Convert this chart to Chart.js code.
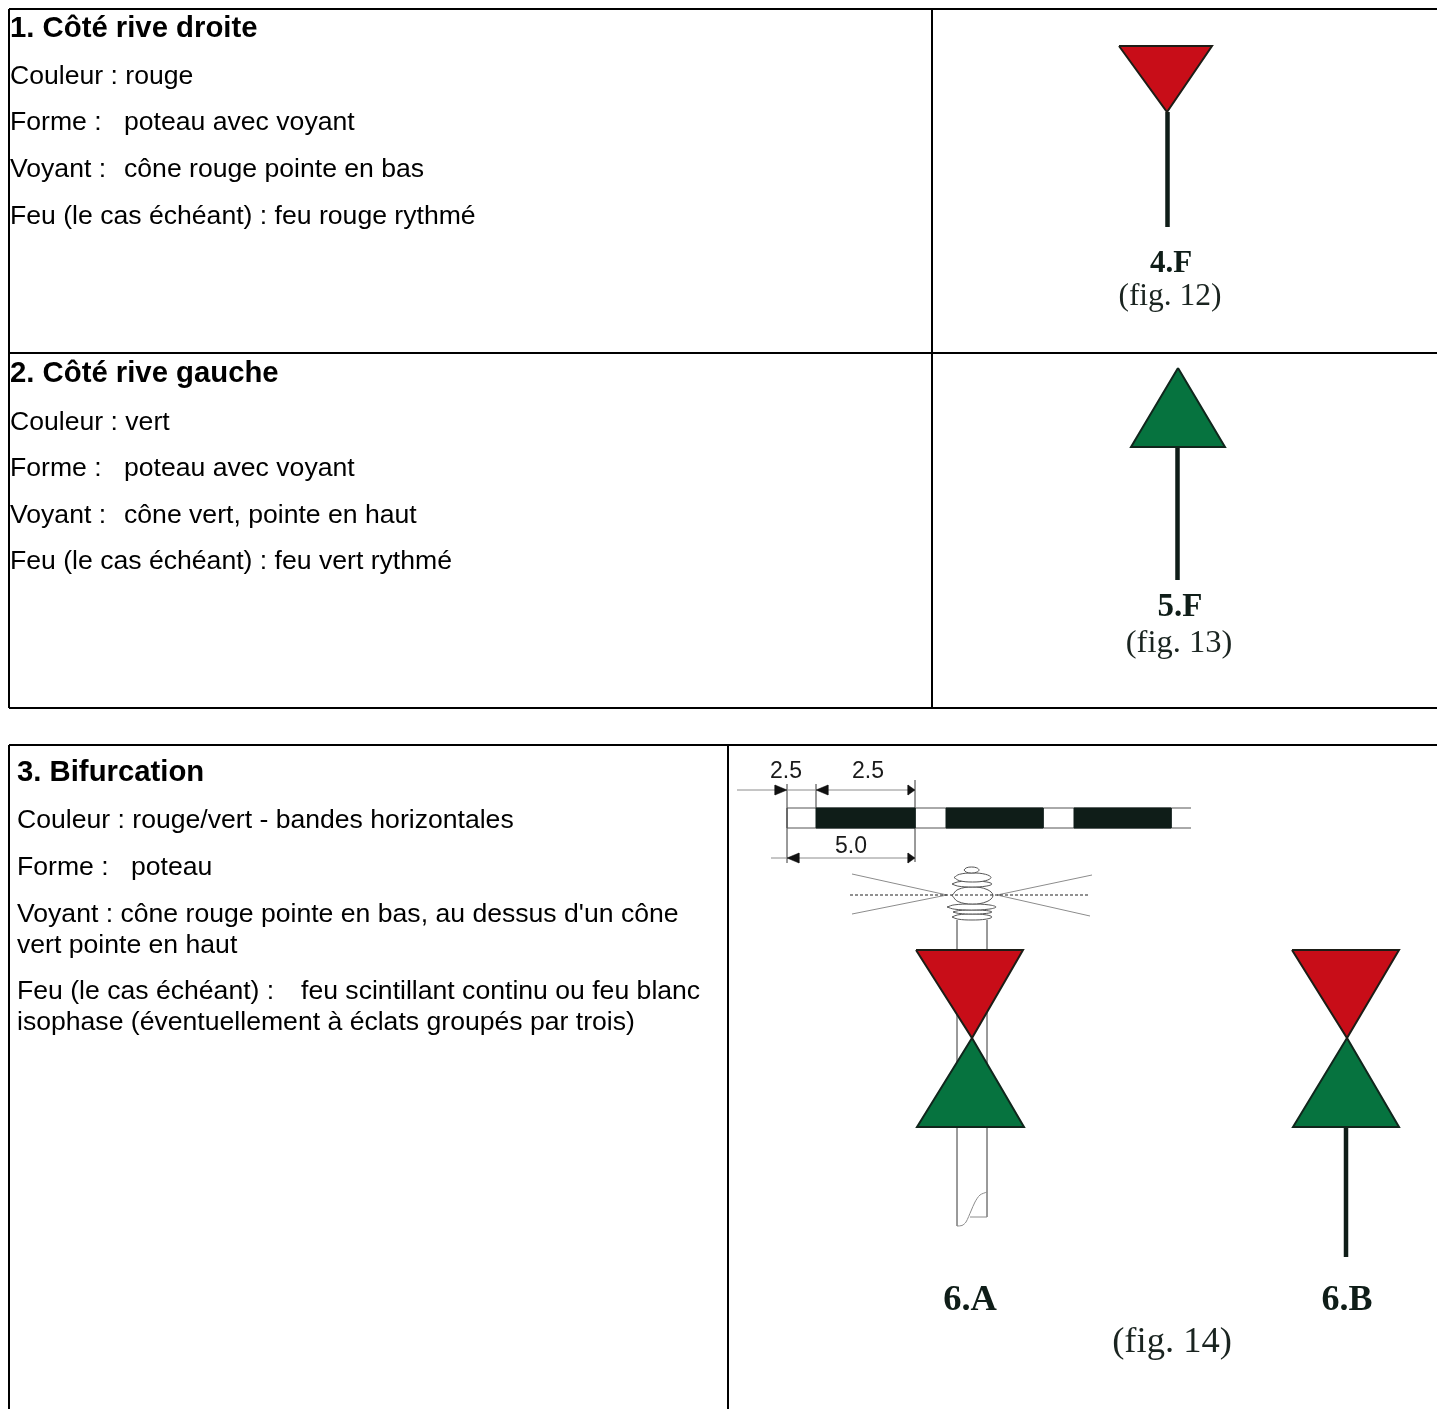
<!DOCTYPE html>
<html>
<head>
<meta charset="utf-8">
<title>Balisage</title>
<script src="https://cdn.jsdelivr.net/npm/chart.js@4"></script>
<style>
	html, body { margin: 0; padding: 0; background: #fff; }
	canvas { display: block; }
</style>
</head>
<body>
<canvas id="planche" width="1437" height="1409"></canvas>
<script>
// axis range, one unit is one unit of the original sheet
var sheetX = [0, 1437];
var sheetY = [0, 1409];

// table rules
var tableRules = [
	[[9, 9], [1437, 9]], [[9, 9], [9, 708]], [[9, 708], [1437, 708]],
	[[9, 353], [1437, 353]], [[932, 9], [932, 708]],
	[[9, 745], [1437, 745]], [[9, 745], [9, 1409]], [[728, 745], [728, 1409]]
];

// cones
var redCones = [
	[[1119, 46], [1212, 46], [1167, 112]],
	[[916, 950], [1023, 950], [972, 1038]],
	[[1292, 950], [1399, 950], [1347, 1038]]
];
var greenCones = [
	[[1178, 368], [1225, 447], [1131, 447]],
	[[972, 1038], [1024, 1127], [917, 1127]],
	[[1347, 1038], [1399, 1127], [1293, 1127]]
];
var posts = [
	[[1167.5, 112], [1167.5, 227]],
	[[1177.5, 447], [1177.5, 580]],
	[[1346, 1127], [1346, 1257]]
];

// 6.A drawn post and light
var postOutline = [
	[[957, 920], [957, 1226]],
	[[987, 920], [987, 1217], [970, 1217]]
];
var postCut = [[957, 1226], [962, 1225.5], [966, 1222], [971, 1211], [975, 1202], [980, 1195], [987, 1192]];
var lanternOvals = [
	[964, 867, 979, 873], [954, 873, 991, 882], [952, 881, 992, 887], [952, 887, 993, 904],
	[947, 904, 996, 910], [953, 910, 992, 914], [952, 914, 992, 920]
];
var lightRays = [
	[[852, 874], [947, 895]], [[852, 914], [947, 895]],
	[[1092, 875], [997, 895]], [[1090, 916], [997, 895]]
];
var lightAxis = [[850, 895], [1088, 895]];

// banded strip and its dimensions
var stripEdges = [[[787, 808], [1191, 808]], [[787, 828], [1191, 828]], [[787, 808], [787, 828]]];
var stripBands = [[816, 915], [946, 1043], [1074, 1171]];
var dimLines = [
	[[737, 790], [915, 790]], [[771, 858], [915, 858]],
	[[787, 784], [787, 808]], [[787, 828], [787, 863]],
	[[816, 784], [816, 808]], [[915, 780], [915, 808]], [[915, 828], [915, 862]]
];
var dimArrows = [
	[[787, 790], [775, 785], [775, 795]],
	[[816, 790], [828, 785], [828, 795]],
	[[915, 790], [908, 785], [908, 795]],
	[[787, 858], [799, 853], [799, 863]],
	[[915, 858], [908, 853], [908, 863]]
];

// text
var headings = ['1. Côté rive droite', '2. Côté rive gauche', '3. Bifurcation'];
var headingX = [10, 10, 17];
var headingY = [37, 382, 781];

var bodyLines = [
	'Couleur : rouge', 'Forme :', 'poteau avec voyant', 'Voyant :', 'cône rouge pointe en bas',
	'Feu (le cas échéant) : feu rouge rythmé',
	'Couleur : vert', 'Forme :', 'poteau avec voyant', 'Voyant :', 'cône vert, pointe en haut',
	'Feu (le cas échéant) : feu vert rythmé',
	'Couleur : rouge/vert - bandes horizontales', 'Forme :', 'poteau',
	'Voyant : cône rouge pointe en bas, au dessus d\'un cône', 'vert pointe en haut',
	'Feu (le cas échéant) :', 'feu scintillant continu ou feu blanc',
	'isophase (éventuellement à éclats groupés par trois)'
];
var bodyX = [10, 10, 124, 10, 124, 10, 10, 10, 124, 10, 124, 10, 17, 17, 131, 17, 17, 17, 301, 17];
var bodyY = [84, 130, 130, 177, 177, 224, 430, 476, 476, 523, 523, 569, 828, 875, 875, 922, 953, 999, 999, 1030];

var dimTexts = ['2.5', '2.5', '5.0'];
var dimTextX = [786, 868, 851];
var dimTextY = [778, 778, 853];

var figBold = ['4.F', '5.F', '6.A', '6.B'];
var figBoldX = [1171, 1180, 970, 1347];
var figBoldY = [272, 616, 1310, 1310];
var figBoldSize = [31, 33, 36.5, 36];

var figPlain = ['(fig. 12)', '(fig. 13)', '(fig. 14)'];
var figPlainX = [1170, 1179, 1172];
var figPlainY = [305, 652, 1352];
var figPlainSize = [31.5, 32.5, 36.5];

var INK = '#0f1d18';
var GREY = '#8c8c8c';
var RED = '#c80d18';
var GREEN = '#06733f';

function toXY(list){
	return list.map(function(p){ return {x: p[0], y: p[1]}; });
}

// open stroke
function stroke(list, color, width, extra){
	var ds = {
		data: toXY(list),
		showLine: true,
		borderColor: color,
		borderWidth: width,
		pointRadius: 0,
		fill: false,
		tension: 0,
		clip: false
	};
	return Object.assign(ds, extra || {});
}

// closed filled polygon
function shape(list, fillColor, edgeColor, width){
	var closed = list.concat([list[0]]);
	return stroke(closed, edgeColor, width, {fill: 'shape', backgroundColor: fillColor, borderJoinStyle: 'miter'});
}

// outline of one lantern ring from its box
function oval(box){
	var l = box[0], t = box[1], r = box[2], b = box[3];
	var dx = (r - l) * 0.146, dy = (b - t) * 0.146;
	var mx = (l + r) / 2, my = (t + b) / 2;
	return [[l, my], [l + dx, t + dy], [mx, t], [r - dx, t + dy], [r, my], [r - dx, b - dy], [mx, b], [l + dx, b - dy], [l, my]];
}

var datasets = [];

// first in the list ends up on top
redCones.forEach(function(c){ datasets.push(shape(c, RED, '#1d1d16', 2)); });
greenCones.forEach(function(c){ datasets.push(shape(c, GREEN, '#10261c', 2)); });
posts.forEach(function(p){ datasets.push(stroke(p, INK, 4.5)); });

postOutline.forEach(function(p){ datasets.push(stroke(p, GREY, 1)); });
datasets.push(stroke(postCut, GREY, 1, {tension: 0.3}));
// the dashed axis runs through the lantern
datasets.push(stroke(lightAxis, '#222', 1.2, {borderDash: [3, 2]}));
lanternOvals.forEach(function(o){ datasets.push(stroke(oval(o), '#555', 1, {tension: 0.4, backgroundColor: '#fff', fill: 'shape'})); });
lightRays.forEach(function(r){ datasets.push(stroke(r, GREY, 1)); });

stripBands.forEach(function(b){
	datasets.push(shape([[b[0], 808], [b[1], 808], [b[1], 828], [b[0], 828]], INK, INK, 1));
});
stripEdges.forEach(function(e){ datasets.push(stroke(e, '#555', 1)); });
dimArrows.forEach(function(a){ datasets.push(shape(a, '#111', '#111', 0.5)); });
dimLines.forEach(function(l){ datasets.push(stroke(l, GREY, 1)); });

tableRules.forEach(function(r){ datasets.push(stroke(r, '#000', 2)); });

// labels go through the same scales as the marks
var sheetText = {
	id: 'sheetText',
	afterDatasetsDraw: function(chart){
		var ctx = chart.ctx;
		var sx = chart.scales.x, sy = chart.scales.y;

		function put(txt, x, y, font, align, color){
			ctx.font = font;
			ctx.textAlign = align;
			ctx.textBaseline = 'alphabetic';
			ctx.fillStyle = color;
			ctx.fillText(txt, sx.getPixelForValue(x), sy.getPixelForValue(y));
		}

		ctx.save();
		headings.forEach(function(t, i){
			put(t, headingX[i], headingY[i], 'bold 29.3px "Liberation Sans"', 'left', '#000');
		});
		bodyLines.forEach(function(t, i){
			put(t, bodyX[i], bodyY[i], '26.6px "Liberation Sans"', 'left', '#000');
		});
		dimTexts.forEach(function(t, i){
			put(t, dimTextX[i], dimTextY[i], '23px "Liberation Sans"', 'center', '#1a1a1a');
		});
		figBold.forEach(function(t, i){
			put(t, figBoldX[i], figBoldY[i], 'bold ' + figBoldSize[i] + 'px "Liberation Serif"', 'center', INK);
		});
		figPlain.forEach(function(t, i){
			put(t, figPlainX[i], figPlainY[i], figPlainSize[i] + 'px "Liberation Serif"', 'center', '#1a2420');
		});
		ctx.restore();
	}
};

new Chart(document.getElementById('planche').getContext('2d'), {
	type: 'scatter',
	data: {datasets: datasets},
	plugins: [sheetText],
	options: {
		responsive: false,
		animation: false,
		events: [],
		layout: {padding: 0},
		plugins: {legend: {display: false}, tooltip: {enabled: false}, title: {display: false}},
		scales: {
			x: {type: 'linear', display: false, min: sheetX[0], max: sheetX[1]},
			y: {type: 'linear', display: false, min: sheetY[0], max: sheetY[1], reverse: true}
		}
	}
});
</script>
</body>
</html>
